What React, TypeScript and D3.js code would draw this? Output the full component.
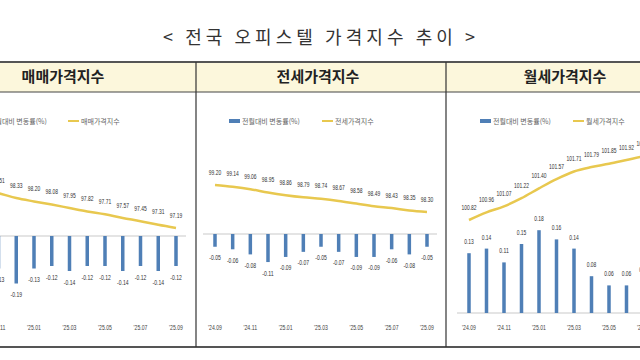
import React from "react";
import * as d3 from "d3";

const months = ["'24.09", "'24.10", "'24.11", "'24.12", "'25.01", "'25.02", "'25.03", "'25.04", "'25.05", "'25.06", "'25.07", "'25.08", "'25.09"];
const tickLabels = ["'24.09", "'24.11", "'25.01", "'25.03", "'25.05", "'25.07", "'25.09"];

const saleIndex = [98.76, 98.64, 98.51, 98.33, 98.2, 98.08, 97.95, 97.82, 97.71, 97.57, 97.45, 97.31, 97.19];
const saleChange = [-0.1, -0.12, -0.13, -0.19, -0.13, -0.12, -0.14, -0.12, -0.12, -0.14, -0.12, -0.14, -0.12];

const jeonseIndex = [99.2, 99.14, 99.06, 98.95, 98.86, 98.79, 98.74, 98.67, 98.58, 98.49, 98.43, 98.35, 98.3];
const jeonseChange = [-0.05, -0.06, -0.08, -0.11, -0.09, -0.07, -0.05, -0.07, -0.09, -0.09, -0.06, -0.08, -0.05];

const rentIndex = [100.82, 100.96, 101.07, 101.22, 101.4, 101.57, 101.71, 101.79, 101.85, 101.92, 101.99, 102.05, 102.12];
const rentChange = [0.13, 0.14, 0.11, 0.15, 0.18, 0.16, 0.14, 0.08, 0.06, 0.06, 0.07, 0.06, 0.07];

const titleText = "< 전국 오피스텔 가격지수 추이 >";
const changeLegend = "전월대비 변동률(%)";

const panels = [
  { name: "매매가격지수", index: saleIndex, change: saleChange, headerX: 63, xRange: [-37, 176], zeroY: 236, bar01: 25, lineDomain: [97.19, 98.33], lineRange: [228, 198], legendX: -24, legend2X: 68 },
  { name: "전세가격지수", index: jeonseIndex, change: jeonseChange, headerX: 318, xRange: [215, 427], zeroY: 234, bar01: 25.5, lineDomain: [98.3, 99.2], lineRange: [212, 185], legendX: 229, legend2X: 322 },
  { name: "월세가격지수", index: rentIndex, change: rentChange, headerX: 565, xRange: [469, 679], zeroY: 313, bar01: 46, lineDomain: [100.82, 101.92], lineRange: [220, 160], legendX: 480, legend2X: 573 },
];

const BAR = "#4f7fb6";
const LINE = "#e8c84f";
const numFont = "'Liberation Sans', Arial, sans-serif";
const krFont = "'Noto Sans CJK KR', sans-serif";

// narrow width for small numeric labels
const narrowLen = (s: string) => {
  let w = 0;
  for (const c of s) w += /[0-9]/.test(c) ? 2.75 : c === "-" ? 1.9 : 1.4;
  return w;
};

function Num({ x, y, s, fill = "#333" }: { x: number; y: number; s: string; fill?: string }) {
  return (
    <text x={x - narrowLen(s) / 2} y={y} fontSize={7.5} fill={fill} fontFamily={numFont} textLength={narrowLen(s)} lengthAdjust="spacingAndGlyphs">
      {s}
    </text>
  );
}

function Panel({ p }: { p: any }) {
  const x = d3.scalePoint<string>().domain(months).range(p.xRange as [number, number]);
  const yBar = d3.scaleLinear().domain([0, 0.1]).range([p.zeroY, p.zeroY - p.bar01]);
  const yLine = d3.scaleLinear().domain(p.lineDomain).range(p.lineRange);
  const line = d3
    .line<number>()
    .x((_, i) => x(months[i]) as number)
    .y((d) => yLine(d))
    .curve(d3.curveMonotoneX);
  const bw = 3.5;
  return (
    <g>
      <rect x={p.legendX} y={119} width={11} height={4} fill={BAR} />
      <text x={p.legendX + 13} y={123.5} fontSize={7} fill="#666" fontFamily={krFont}>{changeLegend}</text>
      <line x1={p.legend2X} x2={p.legend2X + 11} y1={121} y2={121} stroke={LINE} strokeWidth={2} />
      <text x={p.legend2X + 13} y={123.5} fontSize={7} fill="#666" fontFamily={krFont}>{p.name}</text>
      <line x1={p.xRange[0] - 12} x2={p.xRange[1] + 10} y1={p.zeroY} y2={p.zeroY} stroke="#c9c9c9" strokeWidth={1} />
      {p.change.map((v: number, i: number) => {
        const xc = x(months[i]) as number;
        const y0 = yBar(0);
        const y1 = yBar(v);
        return (
          <g key={i}>
            <rect x={xc - bw / 2} y={Math.min(y0, y1)} width={bw} height={Math.abs(y1 - y0)} fill={BAR} />
            <Num x={xc} y={v < 0 ? y1 + 13.5 : y1 - 9} s={v.toFixed(2)} />
          </g>
        );
      })}
      <path d={line(p.index) || ""} fill="none" stroke={LINE} strokeWidth={2.5} />
      {p.index.map((v: number, i: number) => (
        <Num key={i} x={x(months[i]) as number} y={yLine(v) - 10.5} s={v.toFixed(2)} />
      ))}
      {tickLabels.map((t) => (
        <Num key={t} x={x(t) as number} y={329.5} s={t} fill="#444" />
      ))}
      <text x={p.headerX} y={82} textAnchor="middle" fontSize={15} fontWeight={700} fill="#222" fontFamily={krFont}>
        {p.name}
      </text>
    </g>
  );
}

export default function App() {
  return (
    <svg width={640} height={360} style={{ position: "absolute", left: 0, top: 0, background: "#fff" }}>
      <rect x={0} y={0} width={640} height={360} fill="#fff" />
      <text x={319} y={44} textAnchor="middle" fontSize={18} fill="#333" fontFamily={krFont} textLength={312} lengthAdjust="spacing">
        {titleText}
      </text>
      <rect x={0} y={62} width={640} height={30} fill="#fcf7dc" />
      <line x1={0} x2={640} y1={62} y2={62} stroke="#555" strokeWidth={2} />
      <line x1={0} x2={640} y1={92} y2={92} stroke="#444" strokeWidth={1} />
      <line x1={0} x2={640} y1={347} y2={347} stroke="#555" strokeWidth={2} />
      <line x1={196} x2={196} y1={62} y2={347} stroke="#333" strokeWidth={1.2} />
      <line x1={446} x2={446} y1={62} y2={347} stroke="#333" strokeWidth={1.2} />
      {panels.map((p) => (
        <Panel key={p.name} p={p} />
      ))}
    </svg>
  );
}
